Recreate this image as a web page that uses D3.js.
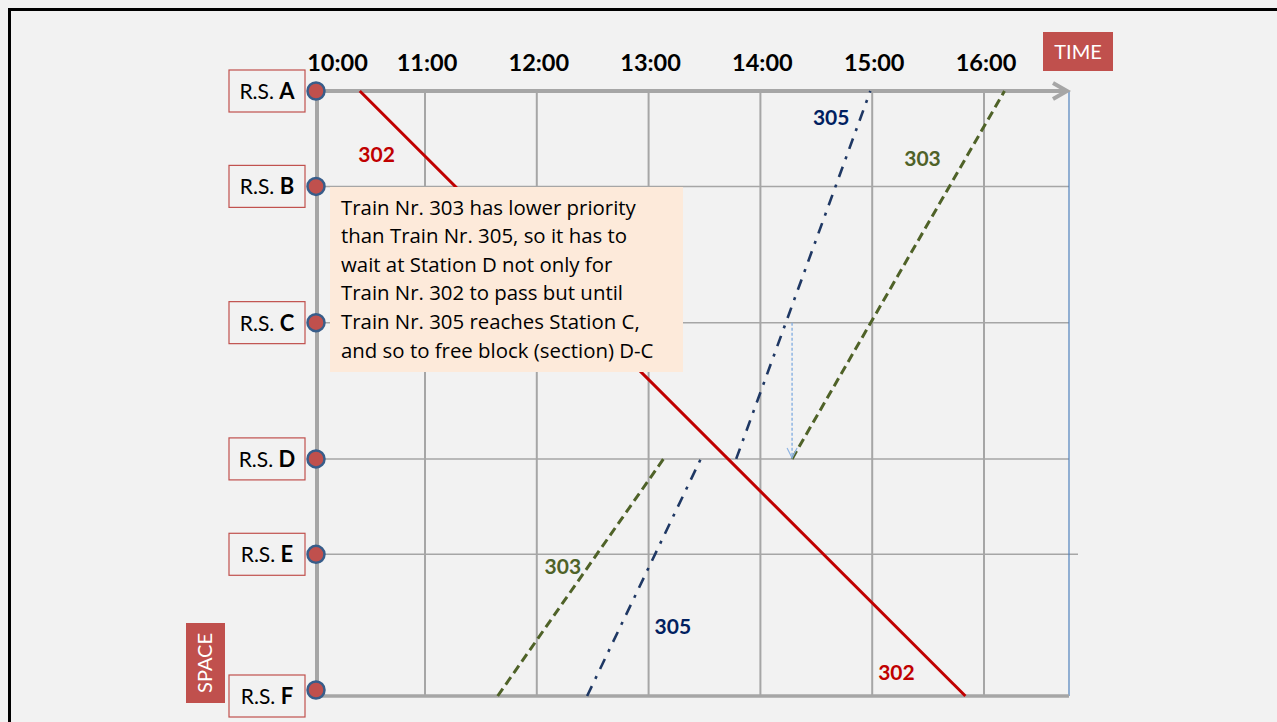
<!DOCTYPE html>
<html>
<head>
<meta charset="utf-8">
<script src="https://cdn.jsdelivr.net/npm/d3@7"></script>
<style>
  html, body { margin: 0; padding: 0; background: #f2f2f2; }
  svg { display: block; font-family: Lato, "Open Sans", sans-serif; }
</style>
</head>
<body>
<svg id="chart" width="1277" height="722"></svg>
<script>
// ---------- data ----------
const timeTicks = ["10:00", "11:00", "12:00", "13:00", "14:00", "15:00", "16:00"];
const stations = ["A", "B", "C", "D", "E", "F"];
const stationKm = [0, 7, 17, 27, 34, 44.4];

// train runs: [time, station]
const train302 = [["10:25", "A"], ["15:50", "F"]];
const train303a = [["11:39", "F"], ["13:08", "D"]];
const train303b = [["14:17", "D"], ["16:11", "A"]];
const train305a = [["12:27", "F"], ["13:28", "D"]];
const train305b = [["13:47", "D"], ["14:59", "A"]];

// train number labels: [text, time, km]
const labels302 = [["302", "10:34", 4.7], ["302", "15:13", 42.7]];
const labels303 = [["303", "15:27", 5.0], ["303", "12:14", 34.9]];
const labels305 = [["305", "14:38", 2.0], ["305", "13:13", 39.3]];

// wait arrow: 305 reaches C -> 303 may leave D
const waitArrow = [["14:17", "C"], ["14:17", "D"]];

const noteLines = [
  "Train Nr. 303 has lower priority",
  "than Train Nr. 305, so it has to",
  "wait at Station D not only for",
  "Train Nr. 302 to pass but until",
  "Train Nr. 305 reaches Station C,",
  "and so to free block (section) D-C"
];

// ---------- helpers ----------
const parseT = s => { const [h, m] = s.split(":").map(Number); return h + m / 60; };
const kmOf = st => stationKm[stations.indexOf(st)];

const svg = d3.select("#chart");
const W = 1277, H = 722;

const x = d3.scaleLinear().domain([10, 16]).range([313.2, 984]);
const y = d3.scaleLinear().domain([0, 44.4]).range([91, 696]);

const axisX = 317;
const rightX = 1069;
const grey = "#a6a6a6";

// background + frame
svg.append("rect").attr("width", W).attr("height", H).attr("fill", "#f2f2f2");
svg.append("path").attr("d", `M9.5,${H} L9.5,9.5 L${W},9.5`)
  .attr("fill", "none").attr("stroke", "#000").attr("stroke-width", 3);

// vertical gridlines (11:00 .. 16:00)
svg.append("g").selectAll("line").data(timeTicks.slice(1)).join("line")
  .attr("x1", d => x(parseT(d))).attr("x2", d => x(parseT(d)))
  .attr("y1", y(0)).attr("y2", y(kmOf("F")))
  .attr("stroke", grey).attr("stroke-width", 2);

// horizontal gridlines (B..E)
svg.append("g").selectAll("line").data(stations.slice(1, 5)).join("line")
  .attr("x1", axisX).attr("x2", d => d === "E" ? rightX + 9 : rightX)
  .attr("y1", d => y(kmOf(d))).attr("y2", d => y(kmOf(d)))
  .attr("stroke", grey).attr("stroke-width", 1.5);

// right edge (blue thin)
svg.append("line").attr("x1", rightX).attr("x2", rightX)
  .attr("y1", y(0)).attr("y2", y(kmOf("F")))
  .attr("stroke", "#4f81bd").attr("stroke-width", 1.2);

// bottom line
svg.append("line").attr("x1", axisX + 4).attr("x2", rightX)
  .attr("y1", y(kmOf("F"))).attr("y2", y(kmOf("F")))
  .attr("stroke", grey).attr("stroke-width", 3.5);

// axes (time arrow + space axis)
svg.append("line").attr("x1", axisX).attr("x2", rightX - 2)
  .attr("y1", y(0)).attr("y2", y(0))
  .attr("stroke", grey).attr("stroke-width", 4);
svg.append("path")
  .attr("d", `M${rightX - 16},${y(0) - 8} L${rightX - 2},${y(0)} L${rightX - 16},${y(0) + 8}`)
  .attr("fill", "none").attr("stroke", grey).attr("stroke-width", 4)
  .attr("stroke-linejoin", "miter");
svg.append("line").attr("x1", axisX).attr("x2", axisX)
  .attr("y1", y(0)).attr("y2", y(kmOf("F")) - 8)
  .attr("stroke", grey).attr("stroke-width", 4);

// time tick labels
svg.append("g").selectAll("text").data(timeTicks).join("text")
  .attr("x", (d, i) => i === 0 ? x(parseT(d)) - 6 : x(parseT(d)) + 2)
  .attr("y", 71)
  .attr("text-anchor", (d, i) => i === 0 ? "start" : "middle")
  .attr("font-weight", "bold").attr("font-size", 23.5).attr("fill", "#000")
  .text(d => d);

// train lines
const line = d3.line().x(d => x(parseT(d[0]))).y(d => y(kmOf(d[1])));
function drawTrain(data, color, width, dash) {
  svg.append("path").datum(data).attr("d", line)
    .attr("fill", "none").attr("stroke", color).attr("stroke-width", width)
    .attr("stroke-dasharray", dash || null);
}
const c302 = "#c00000", c303 = "#4f6228", c305 = "#1f3864";
drawTrain(train302, c302, 3);
drawTrain(train303a, c303, 3, "9,5");
drawTrain(train303b, c303, 3, "9,5");
drawTrain(train305a, c305, 2.6, "11,8,3,8");
drawTrain(train305b, c305, 2.6, "11,8,3,8");

// wait arrow
{
  const ax = x(parseT(waitArrow[0][0]));
  const ay1 = y(kmOf(waitArrow[0][1])), ay2 = y(kmOf(waitArrow[1][1]));
  svg.append("line").attr("x1", ax).attr("x2", ax).attr("y1", ay1).attr("y2", ay2 - 1)
    .attr("stroke", "#8eb4e3").attr("stroke-width", 1.5).attr("stroke-dasharray", "3,2");
  svg.append("path").attr("d", `M${ax - 5},${ay2 - 11} L${ax},${ay2 - 1} L${ax + 5},${ay2 - 11}`)
    .attr("fill", "none").attr("stroke", "#8eb4e3").attr("stroke-width", 1.2);
}

// train number labels
function drawLabels(data, color) {
  svg.append("g").selectAll("text").data(data).join("text")
    .attr("x", d => x(parseT(d[1]))).attr("y", d => y(d[2]) + 7)
    .attr("text-anchor", "middle").attr("font-weight", "bold")
    .attr("font-size", 21).attr("fill", color).text(d => d[0]);
}
drawLabels(labels302, c302);
drawLabels(labels303, c303);
drawLabels(labels305, "#002060");

// annotation box
{
  const bx = 330, by = 187, bw = 353, bh = 185;
  svg.append("rect").attr("x", bx).attr("y", by).attr("width", bw).attr("height", bh)
    .attr("fill", "#fdeada");
  svg.append("g").selectAll("text").data(noteLines).join("text")
    .attr("x", bx + 11).attr("y", (d, i) => by + 27.5 + i * 28.6)
    .attr("font-family", "'Open Sans', Lato, sans-serif")
    .attr("font-size", 20.4).attr("fill", "#000").text(d => d);
}

// station label boxes
const sg = svg.append("g").selectAll("g").data(stations).join("g")
  .attr("transform", d => `translate(229,${y(kmOf(d)) - 21})`);
sg.append("rect").attr("width", 76).attr("height", 42)
  .attr("fill", "#f2f2f2").attr("stroke", "#c0504d").attr("stroke-width", 1.2);
const st = sg.append("text").attr("x", 38).attr("y", 29).attr("text-anchor", "middle")
  .attr("font-size", 21).attr("fill", "#000");
st.append("tspan").text("R.S. ");
st.append("tspan").attr("font-weight", "bold").attr("font-size", 22).text(d => d);

// station circles
svg.append("g").selectAll("circle").data(stations).join("circle")
  .attr("cx", axisX - 1).attr("cy", d => d === "F" ? y(kmOf(d)) - 6 : y(kmOf(d)))
  .attr("r", 8.5).attr("fill", "#c0504d")
  .attr("stroke", "#385d8a").attr("stroke-width", 2.5);

// TIME box
svg.append("rect").attr("x", 1043).attr("y", 32).attr("width", 70).attr("height", 39)
  .attr("fill", "#c0504d");
svg.append("text").attr("x", 1078).attr("y", 59).attr("text-anchor", "middle")
  .attr("font-size", 20).attr("fill", "#fff").text("TIME");

// SPACE box
svg.append("rect").attr("x", 186).attr("y", 623).attr("width", 39).attr("height", 80)
  .attr("fill", "#c0504d");
svg.append("text").attr("transform", "translate(212,663) rotate(-90)")
  .attr("text-anchor", "middle").attr("font-size", 20).attr("fill", "#fff").text("SPACE");
</script>
</body>
</html>
